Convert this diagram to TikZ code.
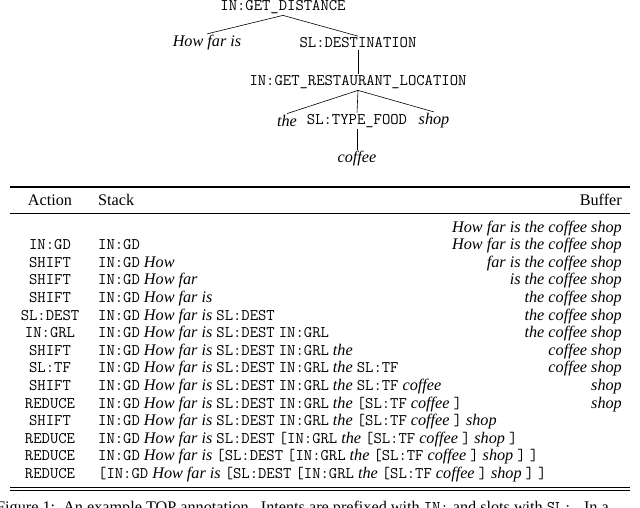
\documentclass[tikz,border=0pt]{standalone}
\usepackage{fontspec}
\setmainfont{Liberation Serif}
\setmonofont{Latin Modern Mono}
\newcommand{\tx}[1]{\texttt{#1}}
\newcommand{\ix}[1]{\textit{#1}}
\tikzset{
  tn/.style={inner sep=1.5pt, font=\fontsize{16.2}{19}\selectfont},
  edge/.style={line width=0.6pt},
  cell/.style={inner sep=0pt, font=\fontsize{16.2}{19}\selectfont},
}
\begin{document}
\begin{tikzpicture}[x=1pt,y=-1pt]
\useasboundingbox (0,0) rectangle (640,507);
\clip (0,0) rectangle (640,507);
% tree
\node[tn] (gd) at (283,7) {\tx{IN:GET\_DISTANCE}};
\node[tn] (hf) at (207,43) {\ix{How far is}};
\node[tn] (dest) at (358,43) {\tx{SL:DESTINATION}};
\node[tn] (grl) at (358,82) {\tx{IN:GET\_RESTAURANT\_LOCATION}};
\node[tn] (the) at (287,121) {\ix{the}};
\node[tn] (tf) at (357,121) {\tx{SL:TYPE\_FOOD}};
\node[tn] (shop) at (434,121) {\ix{shop}};
\node[tn] (cof) at (357,159) {\ix{coffee}};
\draw[edge] (gd.south) -- (hf.north);
\draw[edge] (gd.south) -- (dest.north);
\draw[edge] (dest.south) -- (grl.north);
\draw[edge] (grl.south) -- (the.north);
\draw[edge] (grl.south) -- (tf.north);
\draw[edge] (grl.south) -- (shop.north);
\draw[edge] (tf.south) -- (cof.north);
% table rules
\coordinate (tl) at (10,187); \coordinate (tr) at (630,187);
\draw[line width=1.1pt] (tl) -- (tr);
\coordinate (ml) at (10,213); \coordinate (mr) at (630,213);
\draw[line width=0.6pt] (ml) -- (mr);
\coordinate (bl) at (10,487); \coordinate (br) at (630,487);
\draw[line width=0.8pt] (bl) -- (br);
\coordinate (bl2) at (10,490.5); \coordinate (br2) at (630,490.5);
\draw[line width=0.8pt] (bl2) -- (br2);
% header
\node[cell,anchor=base] (hA) at (50,205) {Action};
\node[cell,anchor=base west] (hS) at (98,205) {Stack};
\node[cell,anchor=base east] (hB) at (622,205) {Buffer};
% rows
\foreach \i/\a/\s/\b in {
 0//{}/{How far is the coffee shop},
 1/IN:GD/{\tx{IN:GD}}/{How far is the coffee shop},
 2/SHIFT/{\tx{IN:GD} \ix{How}}/{far is the coffee shop},
 3/SHIFT/{\tx{IN:GD} \ix{How far}}/{is the coffee shop},
 4/SHIFT/{\tx{IN:GD} \ix{How far is}}/{the coffee shop},
 5/SL:DEST/{\tx{IN:GD} \ix{How far is} \tx{SL:DEST}}/{the coffee shop},
 6/IN:GRL/{\tx{IN:GD} \ix{How far is} \tx{SL:DEST} \tx{IN:GRL}}/{the coffee shop},
 7/SHIFT/{\tx{IN:GD} \ix{How far is} \tx{SL:DEST} \tx{IN:GRL} \ix{the}}/{coffee shop},
 8/SL:TF/{\tx{IN:GD} \ix{How far is} \tx{SL:DEST} \tx{IN:GRL} \ix{the} \tx{SL:TF}}/{coffee shop},
 9/SHIFT/{\tx{IN:GD} \ix{How far is} \tx{SL:DEST} \tx{IN:GRL} \ix{the} \tx{SL:TF} \ix{coffee}}/{shop},
 10/REDUCE/{\tx{IN:GD} \ix{How far is} \tx{SL:DEST} \tx{IN:GRL} \ix{the} \tx{[SL:TF} \ix{coffee} \tx{]}}/{shop},
 11/SHIFT/{\tx{IN:GD} \ix{How far is} \tx{SL:DEST} \tx{IN:GRL} \ix{the} \tx{[SL:TF} \ix{coffee} \tx{]} \ix{shop}}/{},
 12/REDUCE/{\tx{IN:GD} \ix{How far is} \tx{SL:DEST} \tx{[IN:GRL} \ix{the} \tx{[SL:TF} \ix{coffee} \tx{]} \ix{shop} \tx{]}}/{},
 13/REDUCE/{\tx{IN:GD} \ix{How far is} \tx{[SL:DEST} \tx{[IN:GRL} \ix{the} \tx{[SL:TF} \ix{coffee} \tx{]} \ix{shop} \tx{]} \tx{]}}/{},
 14/REDUCE/{\tx{[IN:GD} \ix{How far is} \tx{[SL:DEST} \tx{[IN:GRL} \ix{the} \tx{[SL:TF} \ix{coffee} \tx{]} \ix{shop} \tx{]} \tx{]}}/{}}
{
 \node[cell,anchor=base] (a\i) at (50,{232+17.6*\i}) {\tx{\a}};
 \node[cell,anchor=base west] (s\i) at (98,{232+17.6*\i}) {\s};
 \node[cell,anchor=base east] (b\i) at (622,{232+17.6*\i}) {\ix{\b}};
}
% caption (cut off)
\node[cell,anchor=base west] (cap) at (-4,512) {Figure 1:\ \ An example TOP annotation.\ \ Intents are prefixed with \tx{IN:} and slots with \tx{SL:}.\ \ In a};
\end{tikzpicture}
\end{document}
